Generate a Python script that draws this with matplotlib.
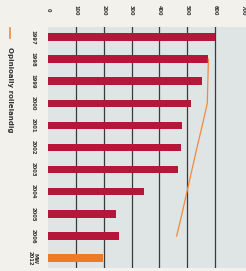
import matplotlib
matplotlib.use("Agg")
import matplotlib.pyplot as plt

categories = ["1997", "1998", "1999", "2000", "2001", "2002", "2003", "2004", "2005", "2006", "MW\n2012"]
bar_values = [598, 575, 553, 515, 480, 479, 467, 344, 243, 254, 199]
line_years = ["1998", "1999", "2000", "2001", "2002", "2003", "2004", "2005", "2006"]
line_values = [576, 574, 572, 554, 535, 517, 499, 481, 462]
xticks = [0, 100, 200, 300, 400, 500, 600, 700]
legend_label = "Opinioally rollelandig"

W, H = 246, 271
fig = plt.figure(figsize=(W / 100, H / 100), dpi=100)
fig.patch.set_facecolor("#f3f1ec")
ax = fig.add_axes([48 / W, 3 / H, 198 / W, 241 / H])
ax.set_facecolor("#dfe4e4")

n = len(categories)
pos = list(range(n))
colors = ["#b5173a"] * (n - 1) + ["#f07a24"]
ax.barh(pos, bar_values, height=0.34, color=colors, zorder=3)
lpos = [categories.index(y) for y in line_years]
ax.plot(line_values, lpos, color="#f5893a", lw=0.9, zorder=4)

ax.set_xlim(0, 711)
ax.set_ylim(n - 1 + 0.45, -0.45)
for v in xticks[1:-1]:
    ax.axvline(v, color="#3a3a3a", lw=0.9, zorder=2)
for s in ax.spines.values():
    s.set_visible(False)
ax.set_xticks([])
ax.set_yticks([])

# tick labels on top, rotated
for v in xticks:
    ax.text(v, -0.45 - 0.77, str(v), rotation=-90, ha="center", va="center",
            fontsize=3.6, color="#333333", fontweight="bold", clip_on=False)
# category labels
for i, c in enumerate(categories):
    ax.text(-54, i, c, rotation=-90, ha="center", va="center", linespacing=1.0,
            fontsize=3.8, color="#333333", fontweight="bold", clip_on=False,
            multialignment="center")

# legend
fig.add_artist(plt.Line2D([10 / W, 10 / W], [1 - 28 / H, 1 - 38 / H], color="#f5893a", lw=1.2))
fig.text(10 / W, 1 - 47 / H, legend_label, rotation=-90, ha="center", va="top",
         fontsize=5.0, color="#333333", fontweight="bold")

fig.savefig("out.png", dpi=100, facecolor=fig.get_facecolor())
